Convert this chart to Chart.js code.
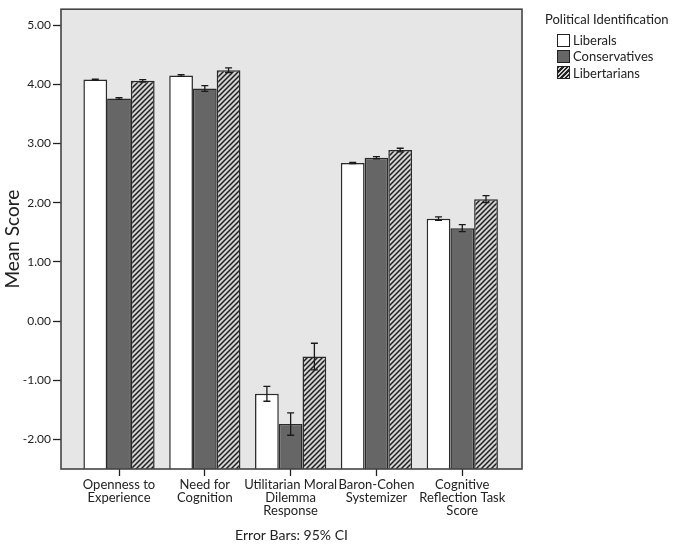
<!DOCTYPE html>
<html>
<head>
<meta charset="utf-8">
<script src="https://cdn.jsdelivr.net/npm/chart.js@4"></script>
<style>
  body { margin: 0; background: #fff; }
  #wrap { position: relative; width: 673px; height: 553px; font-family: Lato, "Open Sans", sans-serif; color: #222; }
  #legend { position: absolute; left: 545px; top: 11px; white-space: nowrap; }
  #legend .title { font-size: 13px; margin-bottom: 5px; }
  #legend .item { display: flex; align-items: center; height: 16.3px; margin-left: 12px; font-size: 13px; }
  #legend .box { width: 13px; height: 13px; border: 1px solid #222; margin-right: 3px; box-sizing: border-box; }
</style>
</head>
<body>
<div id="wrap">
  <canvas id="chart" width="673" height="553"></canvas>
  <div id="legend">
    <div class="title">Political Identification</div>
    <div class="item"><span class="box" style="background:#fff"></span>Liberals</div>
    <div class="item"><span class="box" style="background:#666"></span>Conservatives</div>
    <div class="item"><span class="box" style="background:repeating-linear-gradient(-45deg,#d2d2d2 0 1.6px,#222 1.6px 3.2px)"></span>Libertarians</div>
  </div>
</div>
<script>
const categories = [
    ['Openness to', 'Experience'],
    ['Need for', 'Cognition'],
    ['Utilitarian Moral', 'Dilemma', 'Response'],
    ['Baron-Cohen', 'Systemizer'],
    ['Cognitive', 'Reflection Task', 'Score']
];
const seriesNames = ['Liberals', 'Conservatives', 'Libertarians'];
const liberals = [4.08, 4.15, -1.23, 2.67, 1.73];
const conservatives = [3.76, 3.93, -1.74, 2.76, 1.57];
const libertarians = [4.06, 4.24, -0.60, 2.89, 2.06];
// half width of the 95% CI
const ciLiberals = [0.01, 0.015, 0.125, 0.01, 0.03];
const ciConservatives = [0.015, 0.05, 0.19, 0.02, 0.06];
const ciLibertarians = [0.02, 0.04, 0.225, 0.03, 0.06];
const yTicks = [-2, -1, 0, 1, 2, 3, 4, 5];

function hatch() {
    let c = document.createElement('canvas');
    let s = 5;
    c.width = s; c.height = s;
    let g = c.getContext('2d');
    g.fillStyle = '#d2d2d2';
    g.fillRect(0, 0, s, s);
    g.strokeStyle = '#1e1e1e';
    g.lineWidth = 1.5;
    g.beginPath();
    g.moveTo(-1, s + 1); g.lineTo(s + 1, -1);
    g.moveTo(-1, 1); g.lineTo(1, -1);
    g.moveTo(s - 1, s + 1); g.lineTo(s + 1, s - 1);
    g.stroke();
    return g.createPattern(c, 'repeat');
}

function points(arr) {
    return arr.map((v, i) => ({x: i, y: v}));
}

const ciSets = [ciLiberals, ciConservatives, ciLibertarians];

const plotFrame = {
    id: 'plotFrame',
    beforeDatasetsDraw(chart) {
        let a = chart.chartArea, ctx = chart.ctx;
        ctx.save();
        ctx.fillStyle = '#e5e6e5';
        ctx.fillRect(a.left, a.top, a.right - a.left, a.bottom - a.top);
        ctx.restore();
    },
    afterDatasetsDraw(chart) {
        let a = chart.chartArea, ctx = chart.ctx;
        let y = chart.scales.y;
        ctx.save();
        ctx.strokeStyle = '#1a1a1a';
        ctx.lineWidth = 1.3;
        chart.data.datasets.forEach((ds, d) => {
            let meta = chart.getDatasetMeta(d);
            meta.data.forEach((bar, i) => {
                let v = ds.data[i].y, e = ciSets[d][i];
                let y1 = y.getPixelForValue(v + e), y2 = y.getPixelForValue(v - e);
                let x = bar.x;
                ctx.beginPath();
                ctx.moveTo(x, y1); ctx.lineTo(x, y2);
                ctx.moveTo(x - 3.5, y1); ctx.lineTo(x + 3.5, y1);
                ctx.moveTo(x - 3.5, y2); ctx.lineTo(x + 3.5, y2);
                ctx.stroke();
            });
        });
        ctx.strokeStyle = '#444';
        ctx.lineWidth = 1.6;
        ctx.strokeRect(a.left, a.top, a.right - a.left, a.bottom - a.top);
        ctx.restore();
    }
};

const fills = ['#ffffff', '#666666', hatch()];

new Chart(document.getElementById('chart').getContext('2d'), {
    type: 'bar',
    data: {
        datasets: seriesNames.map((name, k) => ({
            label: name,
            data: points([liberals, conservatives, libertarians][k]),
            backgroundColor: fills[k],
            borderColor: '#2a2a2a',
            borderWidth: 1.5,
            base: -2.5,
            categoryPercentage: 0.83,
            barPercentage: 1.0
        }))
    },
    options: {
        responsive: false,
        animation: false,
        layout: { padding: { top: 4, right: 151, left: 0, bottom: 0 } },
        plugins: {
            legend: { display: false },
            tooltip: { enabled: false }
        },
        scales: {
            x: {
                type: 'linear',
                offset: false,
                min: -0.676,
                max: 4.696,
                afterBuildTicks: (s) => { s.ticks = categories.map((c, i) => ({value: i})); },
                afterFit: (s) => { s.height = 84; },
                border: { display: false },
                grid: { offset: false, drawOnChartArea: false, tickLength: 7, tickColor: '#222', tickWidth: 1.3 },
                ticks: {
                    autoSkip: false,
                    maxRotation: 0,
                    padding: 2,
                    color: '#222',
                    font: { family: 'Lato', size: 13, lineHeight: 1.0 },
                    callback: (v) => categories[v]
                },
                title: {
                    display: true,
                    text: 'Error Bars: 95% CI',
                    color: '#222',
                    font: { family: 'Lato', size: 14 },
                    padding: { top: 0, bottom: 9 }
                }
            },
            y: {
                min: -2.5,
                max: 5.27,
                afterBuildTicks: (s) => { s.ticks = yTicks.map(v => ({value: v})); },
                afterFit: (s) => { s.width = 61; },
                border: { display: false },
                grid: { drawOnChartArea: false, tickLength: 8, tickColor: '#222', tickWidth: 1.3 },
                ticks: {
                    padding: 2,
                    color: '#222',
                    font: { family: 'Lato', size: 12 },
                    callback: (v) => v.toFixed(2)
                },
                title: {
                    display: true,
                    text: 'Mean Score',
                    color: '#222',
                    font: { family: 'Lato', size: 19 },
                    padding: { top: 1, bottom: 0 }
                }
            }
        }
    },
    plugins: [plotFrame]
});
</script>
</body>
</html>
